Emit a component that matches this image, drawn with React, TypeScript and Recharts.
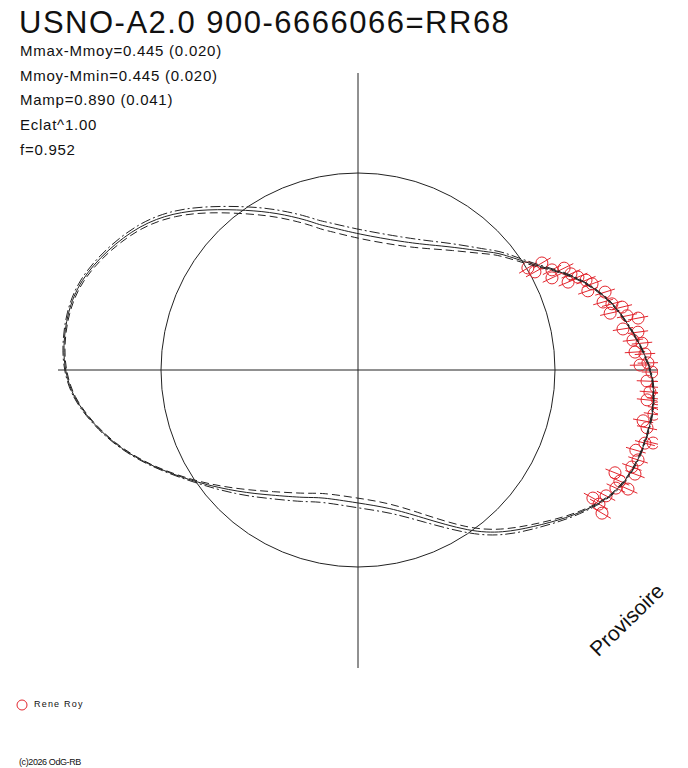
import { ScatterChart, Scatter, XAxis, YAxis, ReferenceLine, ReferenceDot } from 'recharts';

// Fitted polar light curve.
// angle in degrees (counter-clockwise from +x), radius with the mean circle = 1
const CURVE_ANGLE = [
  -179.6, -174.6, -169.4, -163.4, -155.8, -144.9, -134.0, -125.1, -111.7, -106.7,
  -90.0, -76.9, -67.1, -55.3, -48.3, -41.9, -35.3, -30.2, -26.7, -22.2,
  -17.1, -12.3, -8.3, -4.4, -0.6, 4.0, 9.0, 14.7, 19.5, 24.9,
  31.0, 39.5, 42.5, 52.3, 60.1, 70.6, 90.0, 101.1, 104.7, 108.8,
  117.3, 124.7, 133.2, 139.7, 146.4, 154.4, 162.1, 168.9, 175.5,
];
const CURVE_RADIUS = [
  1.487, 1.453, 1.384, 1.298, 1.175, 0.998, 0.862, 0.776, 0.699, 0.673,
  0.675, 0.719, 0.81, 1.0, 1.107, 1.193, 1.3, 1.381, 1.432, 1.475,
  1.498, 1.506, 1.513, 1.507, 1.492, 1.45, 1.398, 1.338, 1.265, 1.17,
  1.036, 0.934, 0.887, 0.789, 0.732, 0.689, 0.69, 0.74, 0.761, 0.804,
  0.897, 0.988, 1.12, 1.232, 1.329, 1.412, 1.483, 1.505, 1.502,
];
// half width of the uncertainty envelope (dash-dot outside, dashed inside)
const CURVE_SPREAD = [
  0.005, 0.004, 0.004, 0.004, 0.004, 0.005, 0.018, 0.021, 0.023, 0.023,
  0.025, 0.025, 0.025, 0.02, 0.018, 0.014, 0.009, 0.005, 0.004, 0.004,
  0.003, 0.003, 0.003, 0.003, 0.003, 0.003, 0.003, 0.003, 0.004, 0.005,
  0.008, 0.013, 0.015, 0.02, 0.022, 0.023, 0.023, 0.023, 0.023, 0.023,
  0.023, 0.023, 0.02, 0.018, 0.013, 0.01, 0.008, 0.006, 0.005,
];

// Observations (Rene Roy)
const OBS_ANGLE = [
  31.0, 29.0, 30.2, 27.3, 25.4, 26.3, 24.3, 22.7, 22.9, 21.5,
  20.2, 19.0, 17.5, 15.5, 14.6, 12.7, 13.4, 11.4, 10.5, 8.8,
  7.7, 6.2, 5.4, 3.7, 3.2, 1.0, 1.4, -0.4, -2.2, -3.3,
  -4.3, -5.9, -5.5, -7.2, -8.5, -10.1, -11.3, -13.9, -14.3, -16.1,
  -17.8, -19.5, -20.6, -21.8, -23.0, -23.8, -24.6, -26.9, -28.6, -29.1,
  -30.4,
];
const OBS_RADIUS = [
  1.006, 1.027, 1.08, 1.108, 1.09, 1.167, 1.186, 1.156, 1.212, 1.244,
  1.266, 1.234, 1.315, 1.291, 1.332, 1.312, 1.378, 1.393, 1.446, 1.361,
  1.434, 1.404, 1.448, 1.409, 1.459, 1.432, 1.472, 1.492, 1.468, 1.515,
  1.486, 1.475, 1.525, 1.535, 1.519, 1.47, 1.496, 1.543, 1.503, 1.468,
  1.493, 1.475, 1.502, 1.405, 1.444, 1.498, 1.44, 1.412, 1.358, 1.4,
  1.436,
];
const OBS_ERR = 0.052;

const TITLE = 'USNO-A2.0 900-6666066=RR68';
const INFO_LINES = [
  'Mmax-Mmoy=0.445 (0.020)',
  'Mmoy-Mmin=0.445 (0.020)',
  'Mamp=0.890 (0.041)',
  'Eclat^1.00',
  'f=0.952',
];

const UNIT = 197; // pixels per radius unit
const INK = '#222';
const RED = '#e3262e';
const FONT = '"Liberation Sans", Arial, sans-serif';

const toXY = (deg: number, r: number) => {
  const a = (deg * Math.PI) / 180;
  return { x: r * Math.cos(a), y: r * Math.sin(a) };
};

const fitData = CURVE_ANGLE.map((a, i) => toXY(a, CURVE_RADIUS[i]));
const upperData = CURVE_ANGLE.map((a, i) => toXY(a, CURVE_RADIUS[i] + CURVE_SPREAD[i]));
const lowerData = CURVE_ANGLE.map((a, i) => toXY(a, CURVE_RADIUS[i] - CURVE_SPREAD[i]));
const obsData = OBS_ANGLE.map((a, i) => ({ ...toXY(a, OBS_RADIUS[i]), angle: a, err: OBS_ERR }));

const noDot = () => <g />;

function ObsMark(props: any) {
  const { cx, cy, payload } = props;
  const a = (payload.angle * Math.PI) / 180;
  const len = payload.err * UNIT;
  const ux = Math.cos(a);
  const uy = -Math.sin(a);
  return (
    <g>
      <line x1={cx - ux * len} y1={cy - uy * len} x2={cx + ux * len} y2={cy + uy * len} stroke={RED} strokeWidth={1} />
      <circle cx={cx} cy={cy} r={6} fill="none" stroke={RED} strokeWidth={1} />
    </g>
  );
}

export default function App() {
  return (
    <div style={{ position: 'absolute', left: 0, top: 0, width: 688, height: 768, background: '#fff', fontFamily: FONT, color: '#111' }}>
      <ScatterChart width={688} height={768} margin={{ top: 73, right: 30, bottom: 100, left: 58 }}>
        <XAxis type="number" dataKey="x" hide domain={[-300 / UNIT, 300 / UNIT]} allowDataOverflow />
        <YAxis type="number" dataKey="y" hide domain={[-298 / UNIT, 297 / UNIT]} allowDataOverflow />
        <ReferenceLine x={0} stroke={INK} strokeWidth={1} />
        <ReferenceLine y={0} stroke={INK} strokeWidth={1} />
        <ReferenceDot x={0} y={0} r={UNIT} fill="none" stroke={INK} strokeWidth={1} />
        <Scatter data={obsData} shape={ObsMark} isAnimationActive={false} />
        <Scatter data={fitData} shape={noDot} line={{ stroke: INK, strokeWidth: 1 }} lineJointType="basisClosed" isAnimationActive={false} />
        <Scatter data={upperData} shape={noDot} line={{ stroke: INK, strokeWidth: 1, strokeDasharray: '10 3 2 3' }} lineJointType="basisClosed" isAnimationActive={false} />
        <Scatter data={lowerData} shape={noDot} line={{ stroke: INK, strokeWidth: 1, strokeDasharray: '8 4' }} lineJointType="basisClosed" isAnimationActive={false} />
      </ScatterChart>

      <div style={{ position: 'absolute', left: 19, top: 5, fontSize: 31, letterSpacing: 1.5, whiteSpace: 'nowrap' }}>{TITLE}</div>
      {INFO_LINES.map((t, i) => (
        <div key={t} style={{ position: 'absolute', left: 20, top: 42 + i * 24.7, fontSize: 15, letterSpacing: 0.75, whiteSpace: 'nowrap' }}>{t}</div>
      ))}

      <div style={{ position: 'absolute', left: 627, top: 620, fontSize: 21, whiteSpace: 'nowrap', transform: 'translate(-50%, -50%) rotate(-44deg)' }}>Provisoire</div>

      <svg style={{ position: 'absolute', left: 15, top: 698 }} width={14} height={14}>
        <circle cx={7} cy={7} r={5} fill="none" stroke={RED} strokeWidth={1} />
      </svg>
      <div style={{ position: 'absolute', left: 34, top: 699, fontSize: 9, letterSpacing: 1.2, whiteSpace: 'nowrap' }}>Rene Roy</div>
      <div style={{ position: 'absolute', left: 19, top: 757, fontSize: 9, letterSpacing: -0.4, whiteSpace: 'nowrap' }}>(c)2026 OdG-RB</div>
    </div>
  );
}
